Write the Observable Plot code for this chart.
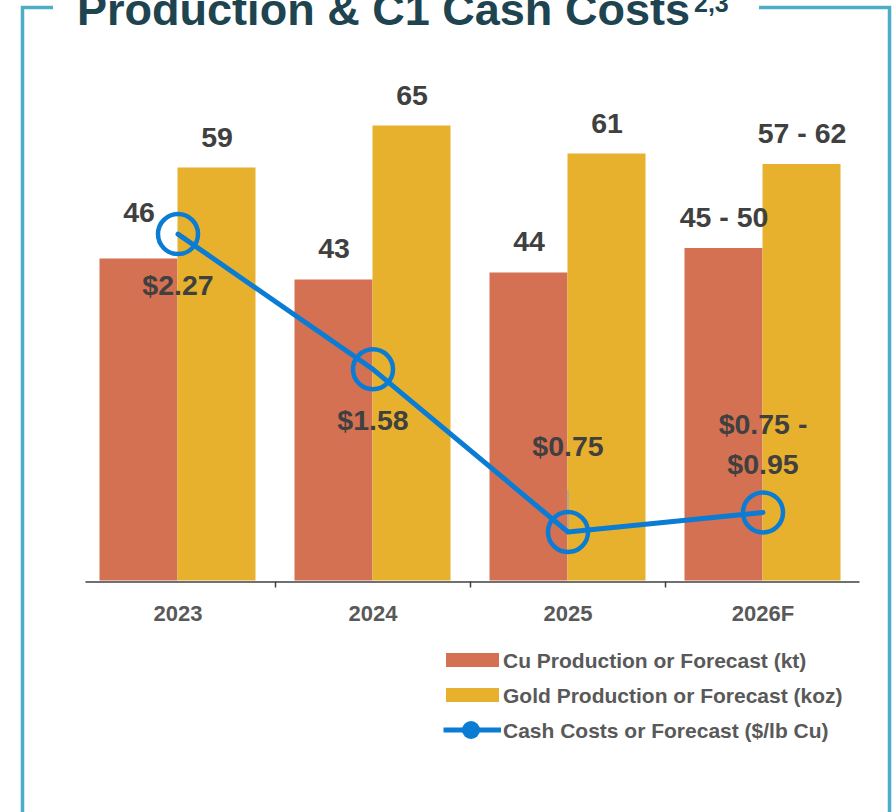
<!DOCTYPE html>
<html>
<head>
<meta charset="utf-8">
<script src="https://cdn.jsdelivr.net/npm/d3@7"></script>
<script src="https://cdn.jsdelivr.net/npm/@observablehq/plot@0.6"></script>
<style>
  body { margin: 0; background: #fff; }
  #wrap { position: relative; width: 895px; height: 812px; overflow: hidden; font-family: "Liberation Sans", Arial, sans-serif; }
  #chart, #deco, #legend { position: absolute; left: 0; }
  #chart { top: 0; }
  #deco { top: 0; }
  #legend { top: 640px; }
</style>
</head>
<body>
<div id="wrap">
  <svg id="deco" width="895" height="812"></svg>
  <div id="chart"></div>
  <svg id="legend" width="895" height="172"></svg>
</div>
<script>
// ---- data ----
const years = ["2023", "2024", "2025", "2026F"];
const cuValues = [46, 43, 44, 47.5];
const cuLabels = ["46", "43", "44", "45 - 50"];
const goldValues = [59, 65, 61, 59.5];
const goldLabels = ["59", "65", "61", "57 - 62"];
const costValues = [2.27, 1.58, 0.75, 0.85];
const costLabels = ["$2.27", "$1.58", "$0.75", "$0.75 -\n$0.95"];
const seriesNames = ["Cu Production or Forecast (kt)", "Gold Production or Forecast (koz)", "Cash Costs or Forecast ($/lb Cu)"];
const title = "Production & C1 Cash Costs";
const titleSup = "2,3";

// ---- styles ----
const cuColor = "#D47152";
const goldColor = "#E8B12D";
const lineColor = "#0B7CD3";
const labelColor = "#404040";
const axisColor = "#595959";
const frameColor = "#4BAEC4";
const titleColor = "#1E4450";

const yDomain = [0, 70];
const costDomain = [0.5, 3.0]; // secondary axis mapped onto primary
const costY = d3.scaleLinear().domain(costDomain).range(yDomain);

const cuRows = years.map((year, i) => ({year, value: cuValues[i], label: cuLabels[i], i}));
const goldRows = years.map((year, i) => ({year, value: goldValues[i], label: goldLabels[i], i}));
const costRows = years.map((year, i) => ({year, cost: costValues[i], label: costLabels[i], i}));

const half = 97.5, pad = 19.5, barOff = 39;
const lbl = {fontSize: 28.5, fontWeight: "bold", fill: labelColor};

const chart = Plot.plot({
  width: 895,
  height: 640,
  marginLeft: 79.5,
  marginRight: 35.5,
  marginTop: 90.5,
  marginBottom: 59.5,
  style: {fontFamily: "'Liberation Sans', Arial, sans-serif", background: "transparent"},
  x: {type: "band", domain: years, padding: 0, label: null},
  y: {domain: yDomain, axis: null},
  marks: [
    Plot.barY(cuRows, {x: "year", y: "value", fill: cuColor, insetLeft: pad, insetRight: half}),
    Plot.barY(goldRows, {x: "year", y: "value", fill: goldColor, insetLeft: half, insetRight: pad}),
    Plot.ruleY([0], {stroke: "#404040", strokeWidth: 1.5, dy: 1, insetLeft: 6}),
    Plot.axisX({ticks: years.slice(1), tickSize: 6, tickFormat: () => "", label: null, dx: -half, dy: 1, stroke: "#404040", strokeWidth: 1.5}),
    Plot.axisX({tickSize: 0, tickPadding: 24, fontSize: 22, fontWeight: "bold", color: axisColor, label: null}),
    Plot.text(cuRows.filter(d => d.i === 0), {x: "year", y: "value", text: "label", dx: -barOff, dy: -46, ...lbl}),
    Plot.text(cuRows.filter(d => d.i > 0), {x: "year", y: "value", text: "label", dx: -barOff, dy: -31, ...lbl}),
    Plot.text(goldRows, {x: "year", y: "value", text: "label", dx: barOff, dy: -30.5, ...lbl}),
    Plot.ruleX(costRows.filter(d => d.i === 2), {x: "year", y1: d => costY(d.cost), y2: d => costY(d.cost), insetTop: -42,
      stroke: "#A6A6A6", strokeWidth: 1.5}),
    Plot.line(costRows, {x: "year", y: d => costY(d.cost), stroke: lineColor, strokeWidth: 5}),
    Plot.dot(costRows, {x: "year", y: d => costY(d.cost), r: 20, stroke: lineColor, strokeWidth: 4.5, fill: "none"}),
    Plot.text(costRows.filter(d => d.i < 2), {x: "year", y: d => costY(d.cost), text: "label", dy: 52, ...lbl}),
    Plot.text(costRows.filter(d => d.i === 2), {x: "year", y: d => costY(d.cost), text: "label", dy: -85, ...lbl}),
    Plot.text(costRows.filter(d => d.i === 3), {x: "year", y: d => costY(d.cost), text: "label", dy: -71, lineHeight: 1.4, ...lbl})
  ]
});
document.getElementById("chart").appendChild(chart);

// ---- frame and title ----
const deco = d3.select("#deco");
deco.append("path")
  .attr("d", "M22.5,812 V7.5 H53 M759,7.5 H889.5 V812")
  .attr("fill", "none").attr("stroke", frameColor).attr("stroke-width", 3.5);
deco.append("text").attr("x", 77).attr("y", 25)
  .attr("font-family", "'Liberation Sans', Arial, sans-serif").attr("font-weight", "bold")
  .attr("font-size", 44).attr("fill", titleColor)
  .attr("textLength", 613).attr("lengthAdjust", "spacingAndGlyphs")
  .text(title);
deco.append("text").attr("x", 694).attr("y", 12)
  .attr("font-family", "'Liberation Sans', Arial, sans-serif").attr("font-weight", "bold")
  .attr("font-size", 25).attr("fill", titleColor)
  .text(titleSup);

// ---- legend ----
const lg = d3.select("#legend");
const rowY = [20, 55, 90];
lg.append("rect").attr("x", 446).attr("y", rowY[0] - 7).attr("width", 53).attr("height", 14).attr("fill", cuColor);
lg.append("rect").attr("x", 446).attr("y", rowY[1] - 7).attr("width", 53).attr("height", 14).attr("fill", goldColor);
lg.append("line").attr("x1", 443.5).attr("x2", 501).attr("y1", rowY[2]).attr("y2", rowY[2])
  .attr("stroke", lineColor).attr("stroke-width", 5);
lg.append("circle").attr("cx", 471).attr("cy", rowY[2]).attr("r", 9).attr("fill", lineColor);
seriesNames.forEach((name, i) => {
  lg.append("text").attr("x", 503).attr("y", rowY[i]).attr("dy", "0.36em")
    .attr("font-family", "'Liberation Sans', Arial, sans-serif").attr("font-weight", "bold")
    .attr("font-size", 21).attr("fill", axisColor).text(name);
});
</script>
</body>
</html>
